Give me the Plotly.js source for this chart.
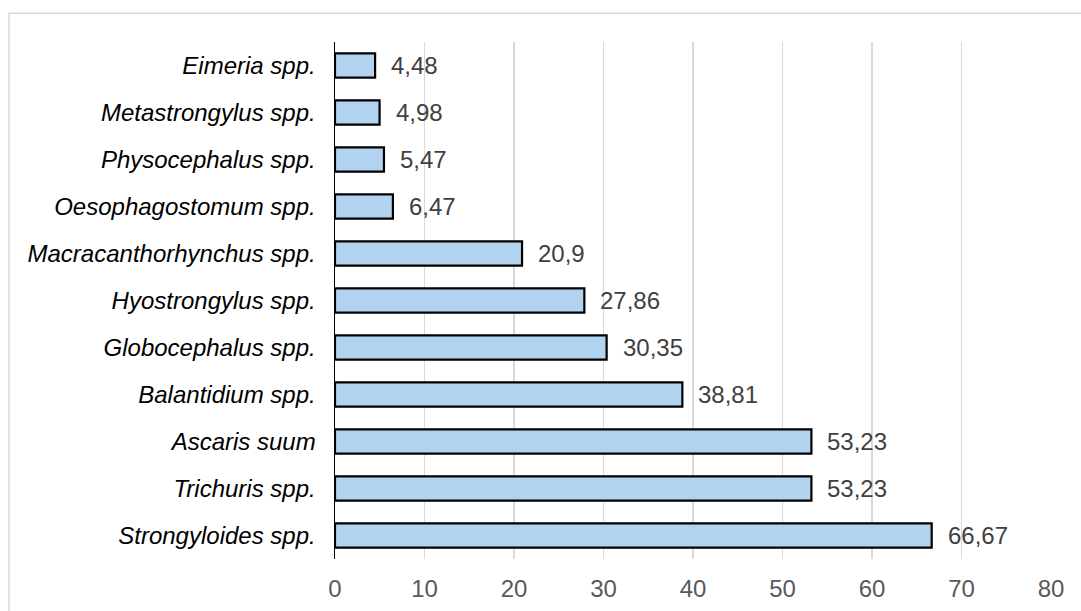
<!DOCTYPE html>
<html>
<head>
<meta charset="utf-8">
<script src="https://cdn.plot.ly/plotly-3.0.1.min.js"></script>
<style>
  html, body { margin: 0; padding: 0; background: #ffffff; }
  #chart { width: 1081px; height: 611px; }
</style>
</head>
<body>
<div id="chart"></div>
<script>
// Parasite genera, listed from top to bottom of the chart
const parasites = [
  'Eimeria spp.',
  'Metastrongylus spp.',
  'Physocephalus spp.',
  'Oesophagostomum spp.',
  'Macracanthorhynchus spp.',
  'Hyostrongylus spp.',
  'Globocephalus spp.',
  'Balantidium spp.',
  'Ascaris suum',
  'Trichuris spp.',
  'Strongyloides spp.'
];

// Prevalence (%) for each genus
const prevalence = [4.48, 4.98, 5.47, 6.47, 20.9, 27.86, 30.35, 38.81, 53.23, 53.23, 66.67];

// X axis ticks
const xTicks = [0, 10, 20, 30, 40, 50, 60, 70, 80];

// Values are printed with a decimal comma
const valueText = prevalence.map(v => String(v).replace('.', ','));

const FONT = 'Liberation Sans, Arial, sans-serif';

const bars = {
  type: 'bar',
  orientation: 'h',
  x: prevalence,
  y: parasites,
  marker: {
    color: '#b2d3f0',
    line: { color: '#000000', width: 2.2 }
  },
  hoverinfo: 'x+y'
};

// Value labels sit just right of each bar end
const valueLabels = prevalence.map((v, i) => ({
  x: v,
  y: parasites[i],
  xref: 'x',
  yref: 'y',
  text: valueText[i],
  showarrow: false,
  xanchor: 'left',
  yanchor: 'middle',
  xshift: 14,
  font: { family: FONT, size: 24, color: '#404040' }
}));

const layout = {
  width: 1081,
  height: 611,
  margin: { l: 335, r: 30, t: 41.5, b: 51.5, pad: 0 },
  paper_bgcolor: '#ffffff',
  plot_bgcolor: '#ffffff',
  showlegend: false,
  bargap: 0.48,
  xaxis: {
    range: [0, 80],
    tickvals: xTicks,
    ticktext: xTicks.map(String),
    showgrid: true,
    gridcolor: '#d9d9d9',
    gridwidth: 1.5,
    zeroline: false,
    showline: false,
    ticks: '',
    ticklabelstandoff: 13,
    tickfont: { family: FONT, size: 24, color: '#595959' },
    fixedrange: true
  },
  yaxis: {
    type: 'category',
    autorange: 'reversed',
    showgrid: false,
    zeroline: false,
    showline: true,
    linecolor: '#000000',
    linewidth: 1.5,
    ticks: '',
    ticklabelstandoff: 13,
    tickfont: { family: FONT, size: 24, color: '#000000', style: 'italic' },
    fixedrange: true
  },
  annotations: valueLabels,
  shapes: [{
    type: 'rect',
    xref: 'paper',
    yref: 'paper',
    x0: -0.4553,
    x1: 1.06,
    y0: -0.12,
    y1: 1.0558,
    line: { color: '#d9d9d9', width: 1.5 },
    fillcolor: 'rgba(0,0,0,0)',
    layer: 'below'
  }]
};

Plotly.newPlot('chart', [bars], layout, { displayModeBar: false, staticPlot: true });
</script>
</body>
</html>
